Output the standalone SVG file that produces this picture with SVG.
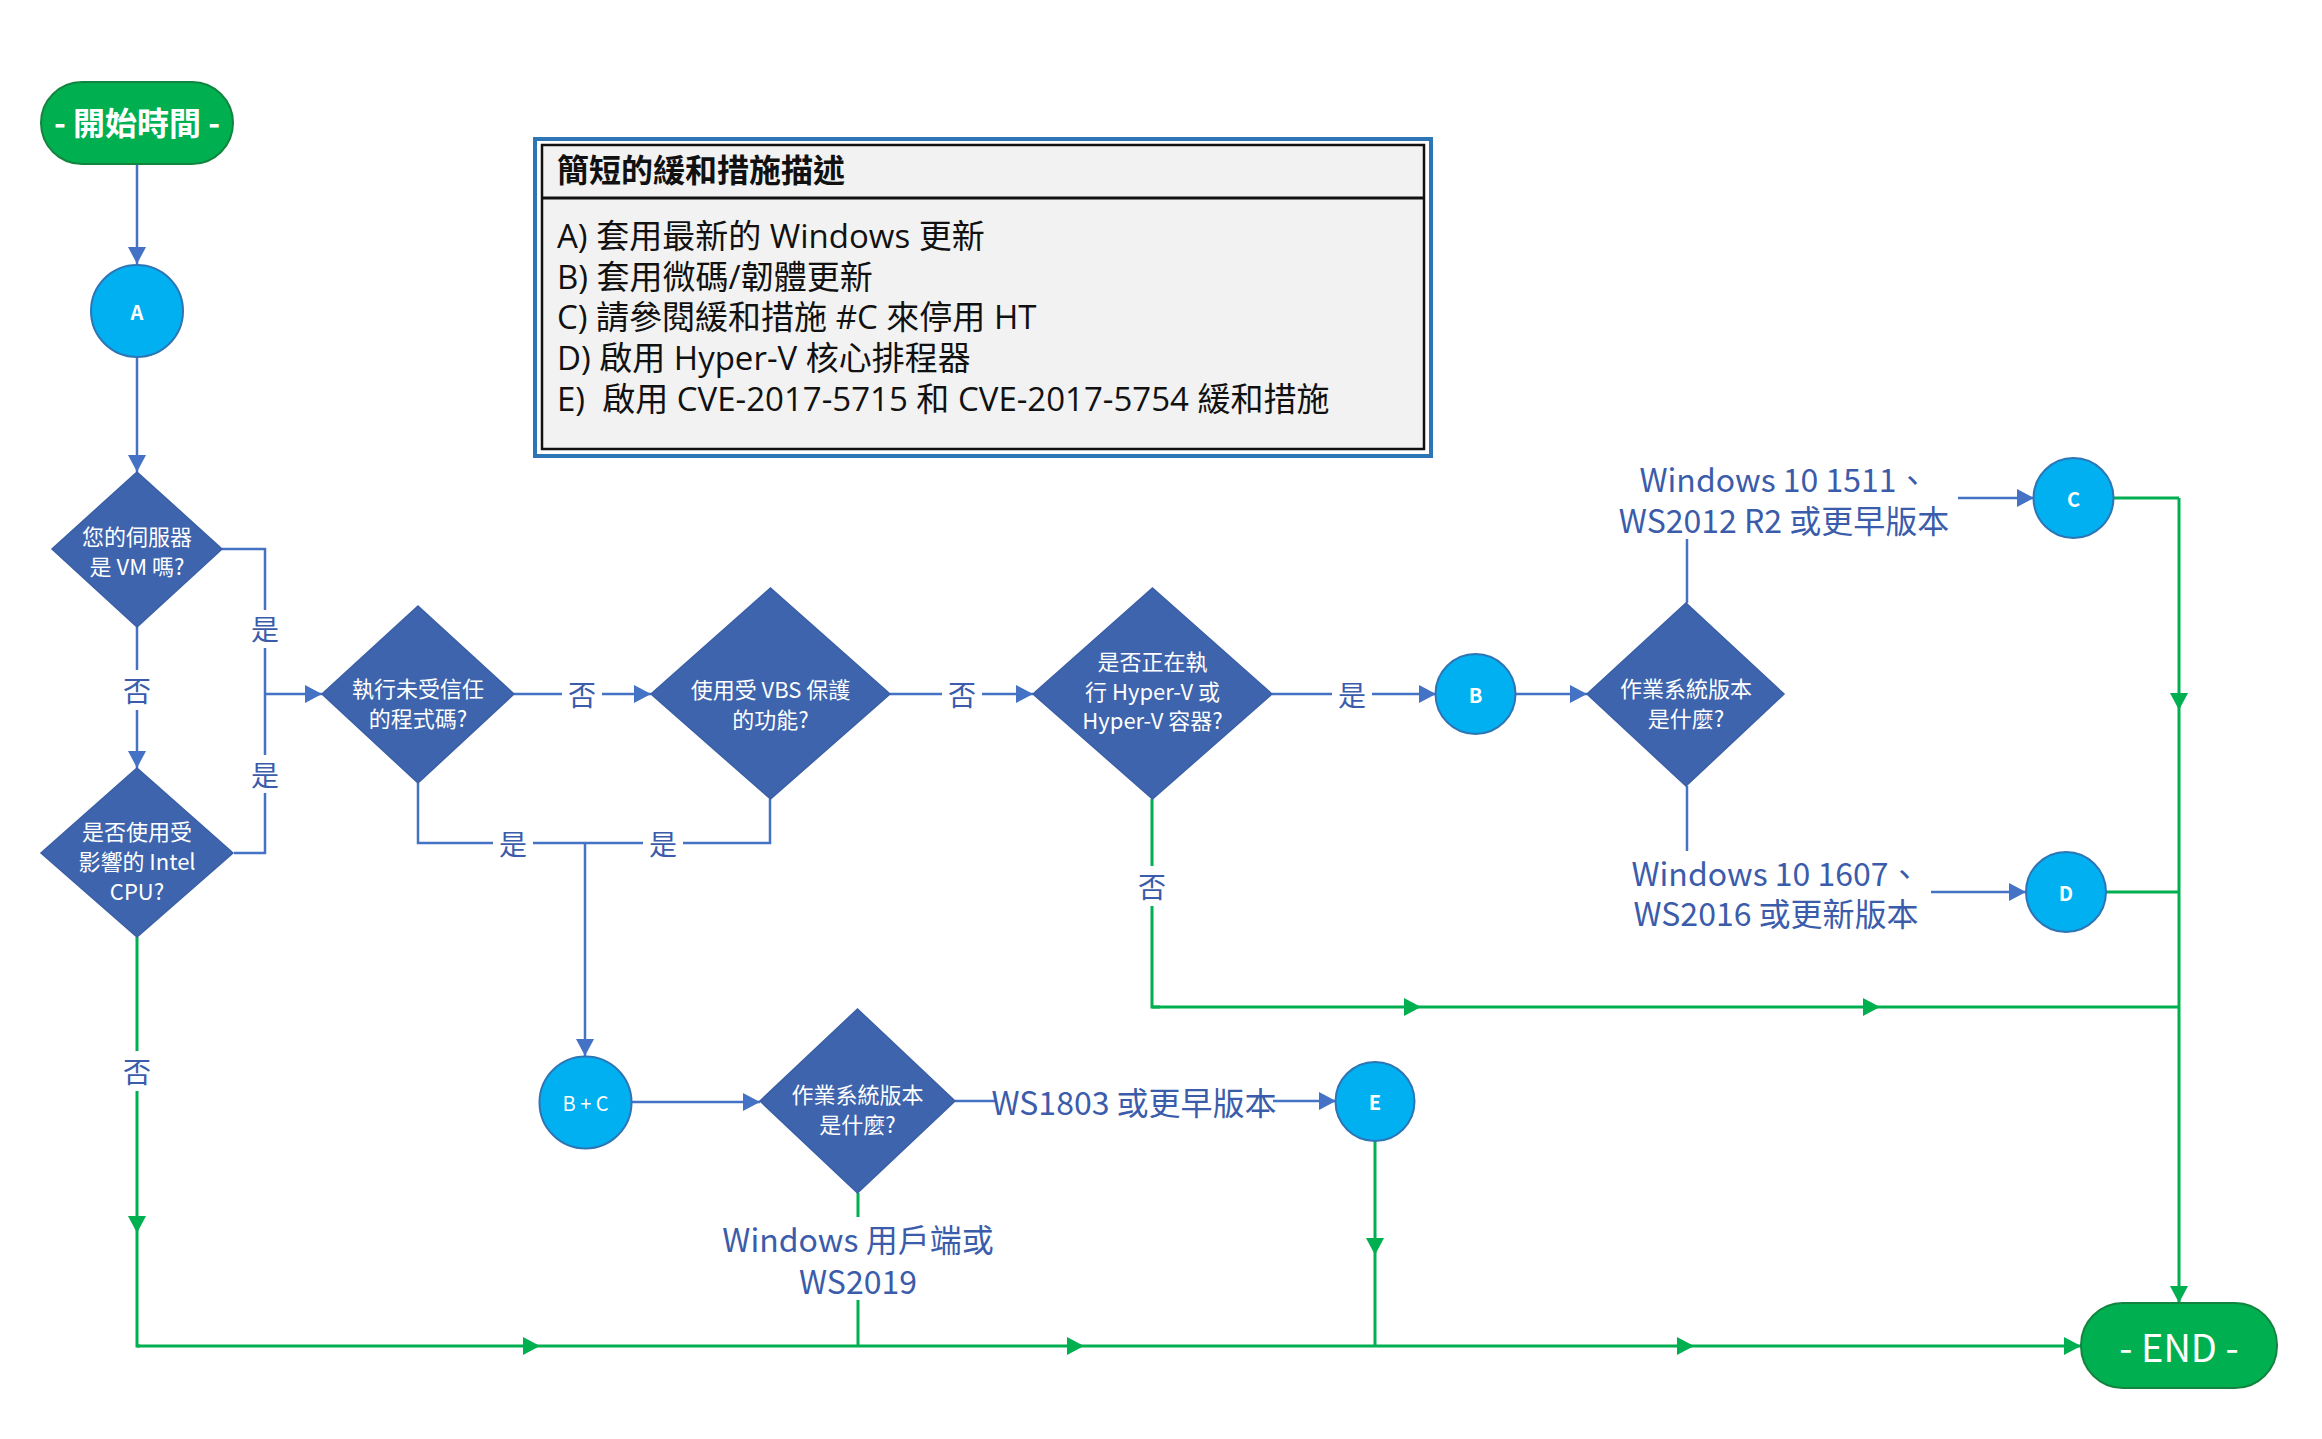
<svg xmlns="http://www.w3.org/2000/svg" width="2322" height="1439" viewBox="0 0 2322 1439">
<style>
text{font-family:"Noto Sans CJK TC","Noto Sans",sans-serif;}
.dia{fill:#3D64AD;stroke:#3A5FA6;stroke-width:1.5;}
.dt{fill:#fff;font-size:22px;text-anchor:middle;dominant-baseline:central;}
.circ{fill:#00B0F0;stroke:#2E75B6;stroke-width:2;}
.ct{fill:#fff;font-size:20px;font-weight:bold;text-anchor:middle;dominant-baseline:central;}
.term{fill:#00B050;stroke:#13843F;stroke-width:2;}
.tt{fill:#fff;text-anchor:middle;dominant-baseline:central;}
.bl{fill:none;stroke:#4472C4;stroke-width:2.5;}
.gr{fill:none;stroke:#00B050;stroke-width:3;}
.ba{marker-end:url(#ab);}
.ga{marker-end:url(#ag);}
.lb{fill:#3B5CAA;font-size:28px;text-anchor:middle;dominant-baseline:central;}
.lbw{fill:#3B5CAA;font-size:32px;text-anchor:middle;dominant-baseline:central;}
.bg{fill:#fff;}
.lg{fill:#111;font-size:33px;dominant-baseline:central;font-family:"Open Sans","Noto Sans CJK TC",sans-serif;white-space:pre;}
</style>
<defs>
<marker id="ab" markerUnits="userSpaceOnUse" markerWidth="18" markerHeight="18" refX="17" refY="9" orient="auto"><path d="M0,0 L17,9 L0,18 z" fill="#4472C4"/></marker>
<marker id="ag" markerUnits="userSpaceOnUse" markerWidth="18" markerHeight="18" refX="17" refY="9" orient="auto"><path d="M0,0 L17,9 L0,18 z" fill="#00B050"/></marker>
</defs>
<rect width="2322" height="1439" fill="#fff"/>

<g id="legend">
<rect x="535" y="139" width="896" height="317" fill="#fff" stroke="#2E75B6" stroke-width="4"/>
<rect x="542" y="145" width="882" height="304" fill="#F2F2F2" stroke="#111" stroke-width="2.5"/>
<line x1="542" y1="198" x2="1424" y2="198" stroke="#111" stroke-width="3"/>
<text class="lg" x="557" y="168" font-weight="bold" style="font-family:'Noto Sans CJK TC',sans-serif;font-size:32px">簡短的緩和措施描述</text>
<text class="lg" x="557" y="235">A) 套用最新的 Windows 更新</text>
<text class="lg" x="557" y="276">B) 套用微碼/韌體更新</text>
<text class="lg" x="557" y="316">C) 請參閱緩和措施 #C 來停用 HT</text>
<text class="lg" x="557" y="357">D) 啟用 Hyper-V 核心排程器</text>
<text class="lg" x="557" y="398">E)  啟用 CVE-2017-5715 和 CVE-2017-5754 緩和措施</text>
</g>

<g id="connectors">
<path class="bl ba" d="M137,164 V264"/>
<path class="bl ba" d="M137,358 V472"/>
<path class="bl" d="M222,549 H265 V694"/>
<path class="bl" d="M234,853 H265 V694"/>
<path class="bl ba" d="M265,694 H322"/>
<path class="bl ba" d="M137,627 V768"/>
<path class="bl ba" d="M514,694 H651"/>
<path class="bl ba" d="M890,694 H1033"/>
<path class="bl ba" d="M1272,694 H1436"/>
<path class="bl ba" d="M1515,694 H1587"/>
<path class="bl" d="M1687,603 V539"/>
<path class="bl ba" d="M1958,498 H2034"/>
<path class="bl" d="M1687,786 V851"/>
<path class="bl ba" d="M1931,892 H2026"/>
<path class="bl" d="M418,783 V843 H770 V799"/>
<path class="bl ba" d="M585,843 V1056"/>
<path class="bl ba" d="M631,1102 H760"/>
<path class="bl ba" d="M955,1101 H1336"/>
<path class="gr ga" d="M137,937 V1233"/>
<path class="gr" d="M137,1233 V1346 H140"/>
<path class="gr ga" d="M137,1346 H540"/>
<path class="gr ga" d="M540,1346 H1084"/>
<path class="gr ga" d="M1084,1346 H1694"/>
<path class="gr ga" d="M1694,1346 H2081"/>
<path class="gr" d="M858,1193 V1217"/>
<path class="gr" d="M858,1300 V1346"/>
<path class="gr ga" d="M1375,1141 V1255"/>
<path class="gr" d="M1375,1255 V1346"/>
<path class="gr" d="M1152,799 V1007 H1160"/>
<path class="gr ga" d="M1152,1007 H1421"/>
<path class="gr ga" d="M1421,1007 H1880"/>
<path class="gr" d="M1880,1007 H2179"/>
<path class="gr" d="M2113,498 H2179"/>
<path class="gr ga" d="M2179,498 V710"/>
<path class="gr ga" d="M2179,710 V1303"/>
<path class="gr" d="M2106,892 H2179"/>
</g>

<g id="edge-labels">
<rect class="bg" x="250" y="610" width="30" height="38"/>
<text class="lb" x="265" y="628">是</text>
<rect class="bg" x="250" y="755" width="30" height="38"/>
<text class="lb" x="265" y="774">是</text>
<rect class="bg" x="122" y="670" width="30" height="40"/>
<text class="lb" x="137" y="690">否</text>
<rect class="bg" x="562" y="678" width="40" height="32"/>
<text class="lb" x="582" y="694">否</text>
<rect class="bg" x="942" y="678" width="40" height="32"/>
<text class="lb" x="962" y="694">否</text>
<rect class="bg" x="1332" y="678" width="40" height="32"/>
<text class="lb" x="1352" y="694">是</text>
<rect class="bg" x="493" y="827" width="40" height="32"/>
<text class="lb" x="513" y="843">是</text>
<rect class="bg" x="643" y="827" width="40" height="32"/>
<text class="lb" x="663" y="843">是</text>
<rect class="bg" x="122" y="1051" width="30" height="40"/>
<text class="lb" x="137" y="1071">否</text>
<rect class="bg" x="1137" y="866" width="30" height="40"/>
<text class="lb" x="1152" y="886">否</text>
<text class="lbw" x="1784" y="478">Windows 10 1511、</text>
<text class="lbw" x="1784" y="519">WS2012 R2 或更早版本</text>
<text class="lbw" x="1776" y="872">Windows 10 1607、</text>
<text class="lbw" x="1776" y="912">WS2016 或更新版本</text>
<text class="lbw" x="858" y="1238">Windows 用戶端或</text>
<text class="lbw" x="858" y="1280">WS2019</text>
<rect class="bg" x="996" y="1082" width="277" height="38"/>
<text class="lbw" x="1134" y="1101" font-size="31">WS1803 或更早版本</text>
</g>

<g id="start">
<rect class="term" x="41" y="82" width="192" height="82" rx="41"/>
<text class="tt" x="137" y="121" font-size="32" font-weight="bold">- 開始時間 -</text>
</g>
<g id="end">
<rect class="term" x="2081" y="1303" width="196" height="85" rx="42"/>
<text class="tt" x="2179" y="1345" font-size="38">- END -</text>
</g>

<g id="node-A"><circle class="circ" cx="137" cy="311" r="46"/><text class="ct" x="137" y="311">A</text></g>
<g id="node-B"><circle class="circ" cx="1475.5" cy="694" r="40"/><text class="ct" x="1475.5" y="694">B</text></g>
<g id="node-C"><circle class="circ" cx="2073.5" cy="498" r="40"/><text class="ct" x="2073.5" y="498">C</text></g>
<g id="node-D"><circle class="circ" cx="2066" cy="892" r="40"/><text class="ct" x="2066" y="892">D</text></g>
<g id="node-E"><circle class="circ" cx="1375" cy="1101.5" r="39.5"/><text class="ct" x="1375" y="1101.5">E</text></g>
<g id="node-BC"><circle class="circ" cx="585.5" cy="1102.5" r="46"/><text class="ct" x="585.5" y="1102.5" style="font-weight:normal">B + C</text></g>

<g id="q-vm">
<polygon class="dia" points="137,472 222,549 137,627 52,549"/>
<text class="dt" x="137" y="535">您的伺服器</text>
<text class="dt" x="137" y="565">是 VM 嗎?</text>
</g>
<g id="q-intel">
<polygon class="dia" points="137,768 233,853 137,937 41,853"/>
<text class="dt" x="137" y="830">是否使用受</text>
<text class="dt" x="137" y="860">影響的 Intel</text>
<text class="dt" x="137" y="890">CPU?</text>
</g>
<g id="q-untrusted">
<polygon class="dia" points="418,606 514,694 418,783 322,694"/>
<text class="dt" x="418" y="687">執行未受信任</text>
<text class="dt" x="418" y="717">的程式碼?</text>
</g>
<g id="q-vbs">
<polygon class="dia" points="770.5,588 890,694 770.5,799 651,694"/>
<text class="dt" x="770.5" y="688">使用受 VBS 保護</text>
<text class="dt" x="770.5" y="718">的功能?</text>
</g>
<g id="q-hyperv">
<polygon class="dia" points="1152.5,588 1272,694 1152.5,799 1033,694"/>
<text class="dt" x="1152.5" y="660">是否正在執</text>
<text class="dt" x="1152.5" y="690">行 Hyper-V 或</text>
<text class="dt" x="1152.5" y="719">Hyper-V 容器?</text>
</g>
<g id="q-os1">
<polygon class="dia" points="1686,603 1784,694 1686,786 1587,694"/>
<text class="dt" x="1686" y="687">作業系統版本</text>
<text class="dt" x="1686" y="717">是什麼?</text>
</g>
<g id="q-os2">
<polygon class="dia" points="857.5,1009 955,1101 857.5,1193 760,1101"/>
<text class="dt" x="857.5" y="1093">作業系統版本</text>
<text class="dt" x="857.5" y="1123">是什麼?</text>
</g>
</svg>
